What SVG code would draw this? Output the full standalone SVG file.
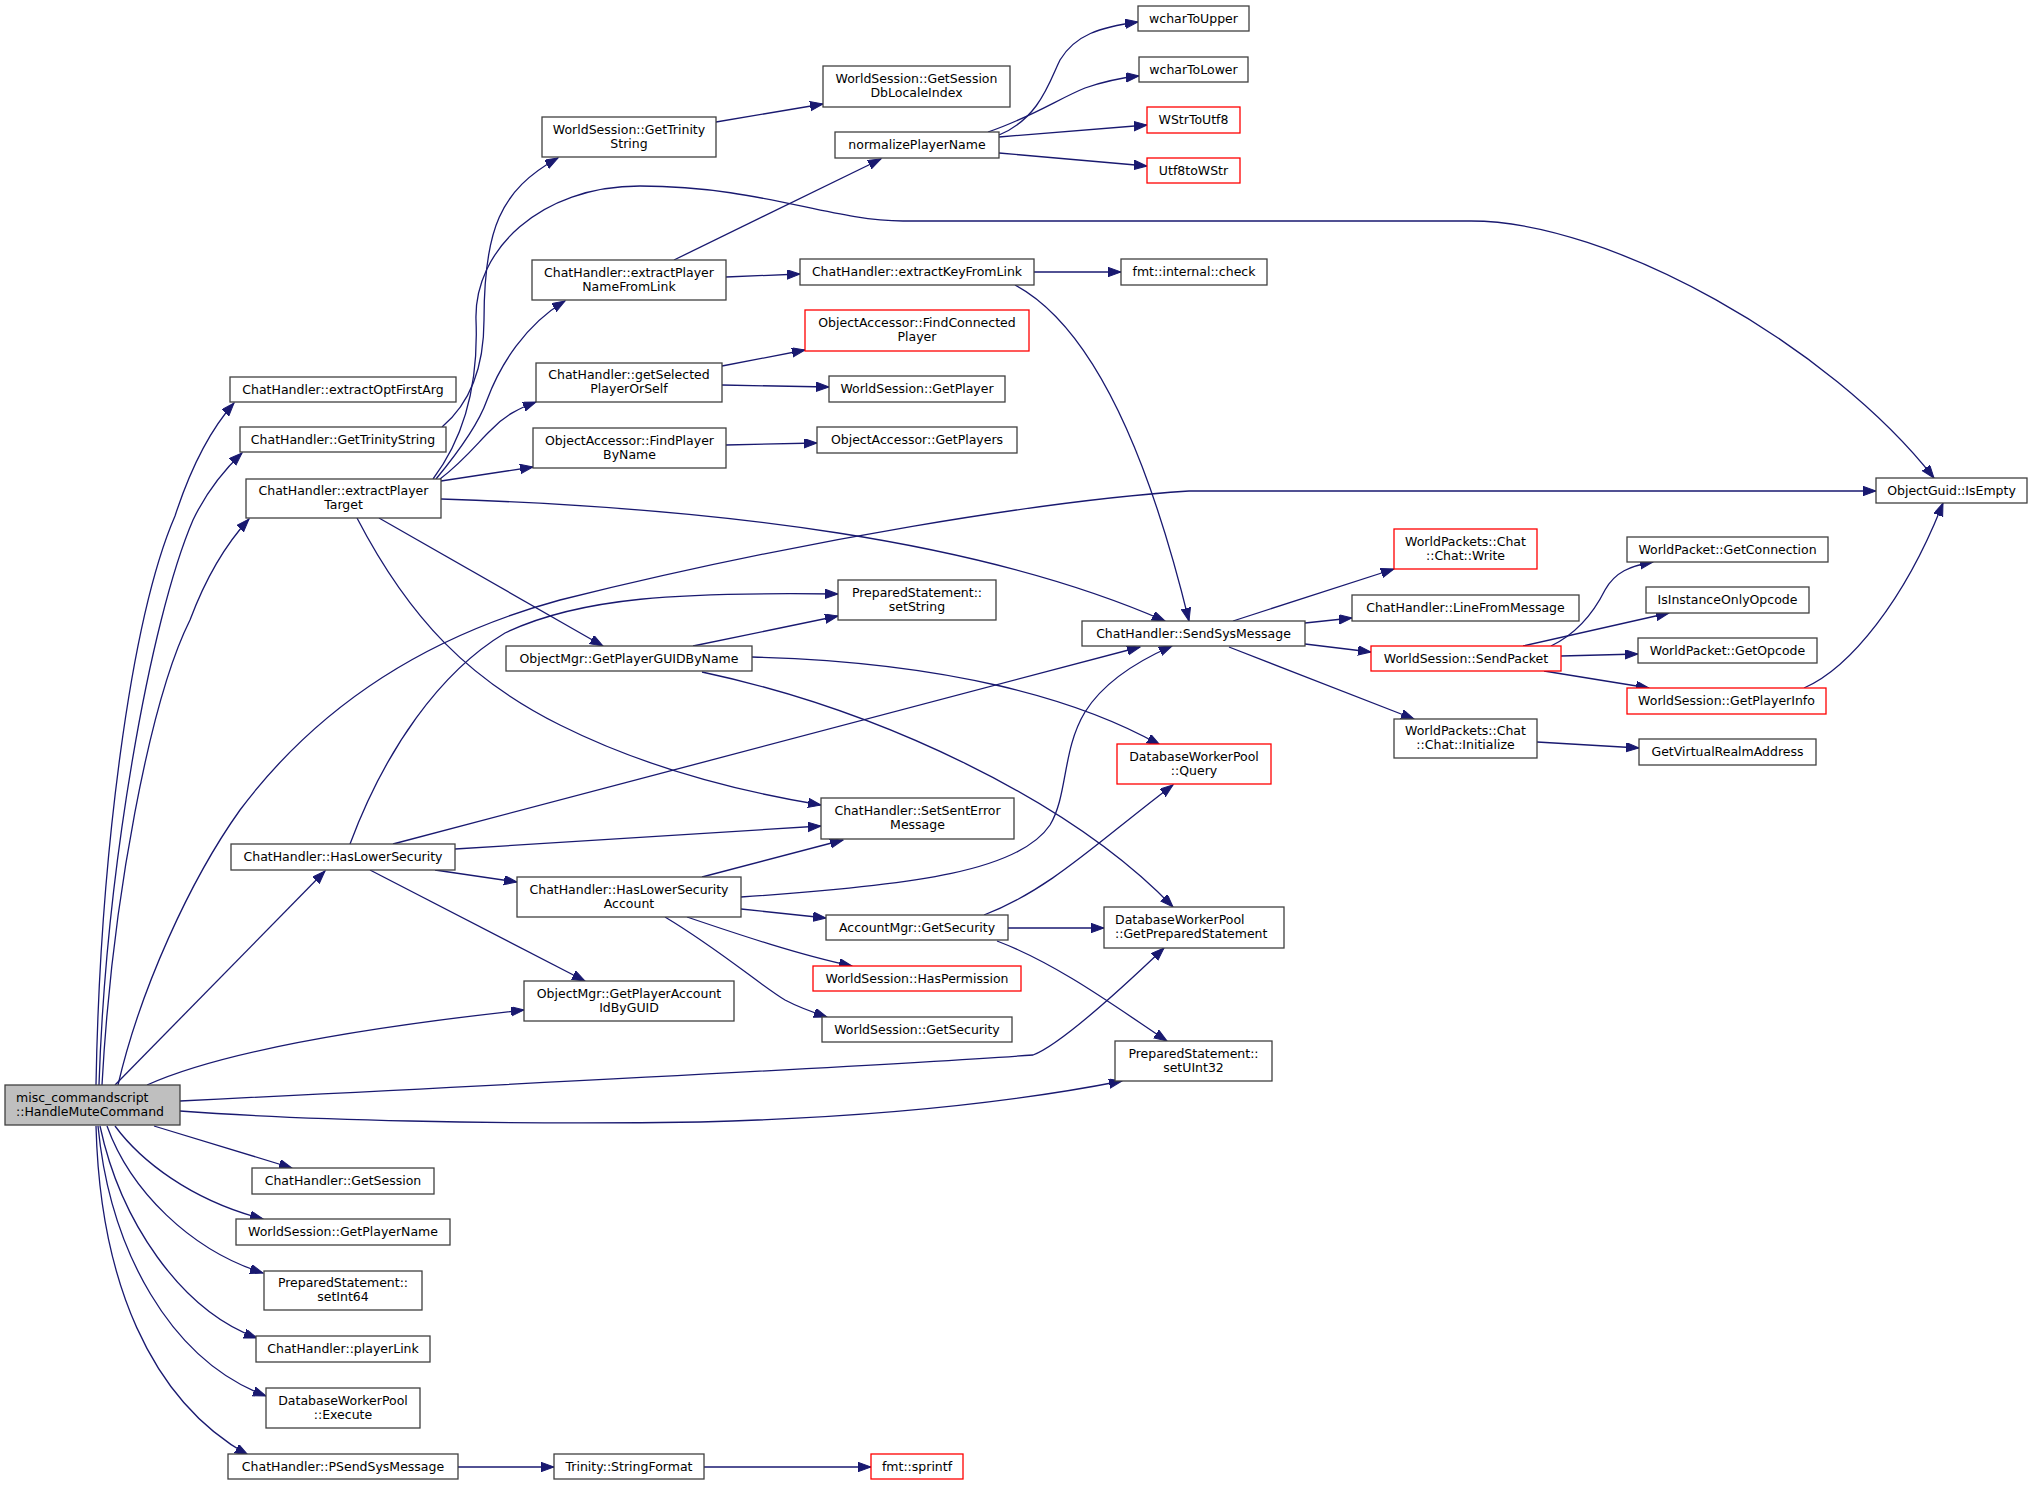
<svg xmlns="http://www.w3.org/2000/svg" width="2032" height="1485" viewBox="0 0 2032 1485">
<defs>
<marker id="a" markerUnits="userSpaceOnUse" markerWidth="15" markerHeight="11" refX="13" refY="4.7" orient="auto" viewBox="0 0 15 11">
<path d="M0,0 L13,4.7 L0,9.4 z" fill="#191970" stroke="#191970" stroke-width="1"/>
</marker>
<style>
.n rect{fill:#fff;stroke:#404040;stroke-width:1.3}
.r rect{stroke:#ff0000}
.g rect{fill:#bfbfbf}
text{font-family:"DejaVu Sans","Liberation Sans",sans-serif;font-size:12.5px;fill:#000;text-anchor:middle}
.l text{text-anchor:start}
#edges path{fill:none;stroke:#191970;stroke-width:1.3;marker-end:url(#a)}
</style>
</defs>
<rect width="2032" height="1485" fill="#fff"/>
<g id="edges">
<path d="M96,1085 C100,860 130,620 175,516 C190,470 210,430 234,403"/>
<path d="M99,1085 C106,870 150,620 193,520 C205,495 222,472 242,453"/>
<path d="M102,1085 C112,900 150,700 190,620 C205,580 225,545 249,519"/>
<path d="M118,1085 C140,990 190,880 240,810 C330,690 450,630 560,600 C800,540 1050,500 1189,491 L1876,491"/>
<path d="M115,1085 L325,871"/>
<path d="M147,1085 C220,1052 360,1028 524,1010"/>
<path d="M180,1101 C500,1085 900,1065 1033,1055 C1060,1045 1120,990 1164,948"/>
<path d="M180,1111 C300,1120 500,1125 700,1122 C850,1118 1000,1105 1122,1081"/>
<path d="M154,1126 L292,1168"/>
<path d="M115,1126 C140,1160 190,1200 263,1219"/>
<path d="M107,1126 C130,1190 190,1250 263,1273"/>
<path d="M100,1126 C120,1220 180,1310 257,1338"/>
<path d="M98,1126 C110,1250 170,1360 266,1396"/>
<path d="M96,1126 C100,1280 150,1400 248,1455"/>
<path d="M458,1467 L554,1467"/>
<path d="M704,1467 L871,1467"/>
<path d="M442,427 C468,405 484,370 484,320 C484,230 500,190 558,158"/>
<path d="M433,479 C470,430 478,370 476,320 C474,250 540,186 640,186 C760,186 830,221 903,221 L1471,221 C1610,221 1830,345 1934,478"/>
<path d="M436,479 C460,450 480,420 487,400 C500,365 525,325 565,301"/>
<path d="M440,479 C465,460 480,440 491,430 C505,415 520,408 536,402"/>
<path d="M441,481 L533,467"/>
<path d="M441,499 C720,508 980,540 1165,621"/>
<path d="M379,518 L603,646"/>
<path d="M357,518 C410,620 470,680 560,725 C640,765 730,790 821,805"/>
<path d="M674,260 L881,159"/>
<path d="M726,277 L800,274"/>
<path d="M1034,272 L1121,272"/>
<path d="M1015,285 C1080,320 1140,420 1189,621"/>
<path d="M999,135 C1040,118 1050,80 1060,60 C1075,35 1100,27 1138,22"/>
<path d="M988,132 C1030,118 1060,98 1085,88 C1105,81 1120,78 1139,76"/>
<path d="M999,137 L1147,125"/>
<path d="M999,153 L1147,166"/>
<path d="M716,122 L823,104"/>
<path d="M722,366 L805,350"/>
<path d="M722,385 L829,387"/>
<path d="M726,445 L817,443"/>
<path d="M693,646 L838,616"/>
<path d="M752,657 C950,662 1080,700 1160,745"/>
<path d="M702,672 C880,710 1070,800 1173,907"/>
<path d="M1233,621 L1394,569"/>
<path d="M1305,623 L1352,618"/>
<path d="M1305,644 L1371,652"/>
<path d="M1229,647 L1414,719"/>
<path d="M1551,646 C1580,632 1595,610 1605,590 C1615,572 1630,566 1653,562"/>
<path d="M1523,646 L1669,613"/>
<path d="M1561,656 L1638,654"/>
<path d="M1544,671 L1649,688"/>
<path d="M1804,688 C1850,668 1905,600 1943,503"/>
<path d="M1537,742 L1639,748"/>
<path d="M741,897 C920,885 1020,870 1050,825 C1068,795 1062,750 1085,712 C1105,680 1140,660 1172,646"/>
<path d="M702,877 L843,840"/>
<path d="M741,909 L826,918"/>
<path d="M687,917 C740,935 800,955 852,966"/>
<path d="M665,917 C720,950 760,985 785,1000 C800,1008 812,1012 827,1017"/>
<path d="M984,915 C1050,890 1100,840 1173,785"/>
<path d="M1008,928 L1104,928"/>
<path d="M997,941 C1060,965 1120,1010 1167,1041"/>
<path d="M455,849 L821,826"/>
<path d="M435,870 L517,882"/>
<path d="M370,870 L585,981"/>
<path d="M350,844 C385,750 440,672 505,633 C580,597 680,592 838,594"/>
<path d="M393,844 L1140,647"/>
</g>
<g id="n1" class="n"><rect x="1138" y="6" width="111" height="25"/><text x="1193.5" y="22.5">wcharToUpper</text></g>
<g id="n2" class="n"><rect x="1139" y="57" width="109" height="25"/><text x="1193.5" y="73.5">wcharToLower</text></g>
<g id="n3" class="n r"><rect x="1147" y="107" width="93" height="26"/><text x="1193.5" y="124">WStrToUtf8</text></g>
<g id="n4" class="n r"><rect x="1147" y="158" width="93" height="25"/><text x="1193.5" y="174.5">Utf8toWStr</text></g>
<g id="n5" class="n"><rect x="823" y="66" width="187" height="41"/><text x="916.5" y="83">WorldSession::GetSession</text><text x="916.5" y="97">DbLocaleIndex</text></g>
<g id="n6" class="n"><rect x="542" y="117" width="174" height="40"/><text x="629" y="133.5">WorldSession::GetTrinity</text><text x="629" y="147.5">String</text></g>
<g id="n7" class="n"><rect x="835" y="132" width="164" height="26"/><text x="917" y="149">normalizePlayerName</text></g>
<g id="n8" class="n"><rect x="532" y="260" width="194" height="40"/><text x="629" y="276.5">ChatHandler::extractPlayer</text><text x="629" y="290.5">NameFromLink</text></g>
<g id="n9" class="n"><rect x="800" y="259" width="234" height="26"/><text x="917" y="276">ChatHandler::extractKeyFromLink</text></g>
<g id="n10" class="n"><rect x="1121" y="259" width="146" height="26"/><text x="1194" y="276">fmt::internal::check</text></g>
<g id="n11" class="n r"><rect x="805" y="310" width="224" height="41"/><text x="917" y="327">ObjectAccessor::FindConnected</text><text x="917" y="341">Player</text></g>
<g id="n12" class="n"><rect x="536" y="363" width="186" height="39"/><text x="629" y="379">ChatHandler::getSelected</text><text x="629" y="393">PlayerOrSelf</text></g>
<g id="n13" class="n"><rect x="829" y="376" width="176" height="26"/><text x="917" y="393">WorldSession::GetPlayer</text></g>
<g id="n14" class="n"><rect x="533" y="428" width="193" height="40"/><text x="629.5" y="444.5">ObjectAccessor::FindPlayer</text><text x="629.5" y="458.5">ByName</text></g>
<g id="n15" class="n"><rect x="817" y="427" width="200" height="26"/><text x="917" y="444">ObjectAccessor::GetPlayers</text></g>
<g id="n16" class="n"><rect x="230" y="377" width="226" height="25"/><text x="343" y="393.5">ChatHandler::extractOptFirstArg</text></g>
<g id="n17" class="n"><rect x="240" y="427" width="206" height="25"/><text x="343" y="443.5">ChatHandler::GetTrinityString</text></g>
<g id="n18" class="n"><rect x="246" y="479" width="195" height="39"/><text x="343.5" y="495">ChatHandler::extractPlayer</text><text x="343.5" y="509">Target</text></g>
<g id="n19" class="n"><rect x="1876" y="478" width="151" height="25"/><text x="1951.5" y="494.5">ObjectGuid::IsEmpty</text></g>
<g id="n20" class="n"><rect x="838" y="580" width="158" height="40"/><text x="917" y="596.5">PreparedStatement::</text><text x="917" y="610.5">setString</text></g>
<g id="n21" class="n"><rect x="1082" y="621" width="223" height="25"/><text x="1193.5" y="637.5">ChatHandler::SendSysMessage</text></g>
<g id="n22" class="n r"><rect x="1394" y="529" width="143" height="40"/><text x="1465.5" y="545.5">WorldPackets::Chat</text><text x="1465.5" y="559.5">::Chat::Write</text></g>
<g id="n23" class="n"><rect x="1352" y="595" width="227" height="26"/><text x="1465.5" y="612">ChatHandler::LineFromMessage</text></g>
<g id="n24" class="n r"><rect x="1371" y="646" width="190" height="25"/><text x="1466" y="662.5">WorldSession::SendPacket</text></g>
<g id="n25" class="n"><rect x="1627" y="537" width="201" height="25"/><text x="1727.5" y="553.5">WorldPacket::GetConnection</text></g>
<g id="n26" class="n"><rect x="1646" y="587" width="163" height="26"/><text x="1727.5" y="604">IsInstanceOnlyOpcode</text></g>
<g id="n27" class="n"><rect x="1638" y="638" width="179" height="25"/><text x="1727.5" y="654.5">WorldPacket::GetOpcode</text></g>
<g id="n28" class="n r"><rect x="1627" y="688" width="199" height="26"/><text x="1726.5" y="705">WorldSession::GetPlayerInfo</text></g>
<g id="n29" class="n"><rect x="1394" y="719" width="143" height="39"/><text x="1465.5" y="735">WorldPackets::Chat</text><text x="1465.5" y="749">::Chat::Initialize</text></g>
<g id="n30" class="n"><rect x="1639" y="739" width="177" height="26"/><text x="1727.5" y="756">GetVirtualRealmAddress</text></g>
<g id="n31" class="n"><rect x="506" y="646" width="246" height="25"/><text x="629" y="662.5">ObjectMgr::GetPlayerGUIDByName</text></g>
<g id="n32" class="n r"><rect x="1117" y="744" width="154" height="40"/><text x="1194" y="760.5">DatabaseWorkerPool</text><text x="1194" y="774.5">::Query</text></g>
<g id="n33" class="n"><rect x="821" y="798" width="193" height="41"/><text x="917.5" y="815">ChatHandler::SetSentError</text><text x="917.5" y="829">Message</text></g>
<g id="n34" class="n"><rect x="231" y="844" width="224" height="26"/><text x="343" y="861">ChatHandler::HasLowerSecurity</text></g>
<g id="n35" class="n"><rect x="517" y="877" width="224" height="40"/><text x="629" y="893.5">ChatHandler::HasLowerSecurity</text><text x="629" y="907.5">Account</text></g>
<g id="n36" class="n"><rect x="826" y="915" width="182" height="25"/><text x="917" y="931.5">AccountMgr::GetSecurity</text></g>
<g id="n37" class="n l"><rect x="1104" y="907" width="180" height="41"/><text x="1115" y="924">DatabaseWorkerPool</text><text x="1115" y="938">::GetPreparedStatement</text></g>
<g id="n38" class="n r"><rect x="813" y="966" width="208" height="25"/><text x="917" y="982.5">WorldSession::HasPermission</text></g>
<g id="n39" class="n"><rect x="524" y="981" width="210" height="40"/><text x="629" y="997.5">ObjectMgr::GetPlayerAccount</text><text x="629" y="1011.5">IdByGUID</text></g>
<g id="n40" class="n"><rect x="822" y="1017" width="190" height="25"/><text x="917" y="1033.5">WorldSession::GetSecurity</text></g>
<g id="n41" class="n"><rect x="1115" y="1041" width="157" height="40"/><text x="1193.5" y="1057.5">PreparedStatement::</text><text x="1193.5" y="1071.5">setUInt32</text></g>
<g id="n42" class="n g l"><rect x="5" y="1085" width="175" height="40"/><text x="16" y="1101.5">misc_commandscript</text><text x="16" y="1115.5">::HandleMuteCommand</text></g>
<g id="n43" class="n"><rect x="252" y="1168" width="182" height="26"/><text x="343" y="1185">ChatHandler::GetSession</text></g>
<g id="n44" class="n"><rect x="236" y="1219" width="214" height="26"/><text x="343" y="1236">WorldSession::GetPlayerName</text></g>
<g id="n45" class="n"><rect x="264" y="1271" width="158" height="39"/><text x="343" y="1287">PreparedStatement::</text><text x="343" y="1301">setInt64</text></g>
<g id="n46" class="n"><rect x="256" y="1336" width="174" height="26"/><text x="343" y="1353">ChatHandler::playerLink</text></g>
<g id="n47" class="n"><rect x="266" y="1388" width="154" height="40"/><text x="343" y="1404.5">DatabaseWorkerPool</text><text x="343" y="1418.5">::Execute</text></g>
<g id="n48" class="n"><rect x="228" y="1454" width="230" height="25"/><text x="343" y="1470.5">ChatHandler::PSendSysMessage</text></g>
<g id="n49" class="n"><rect x="554" y="1454" width="150" height="25"/><text x="629" y="1470.5">Trinity::StringFormat</text></g>
<g id="n50" class="n r"><rect x="871" y="1454" width="92" height="25"/><text x="917" y="1470.5">fmt::sprintf</text></g>
</svg>
